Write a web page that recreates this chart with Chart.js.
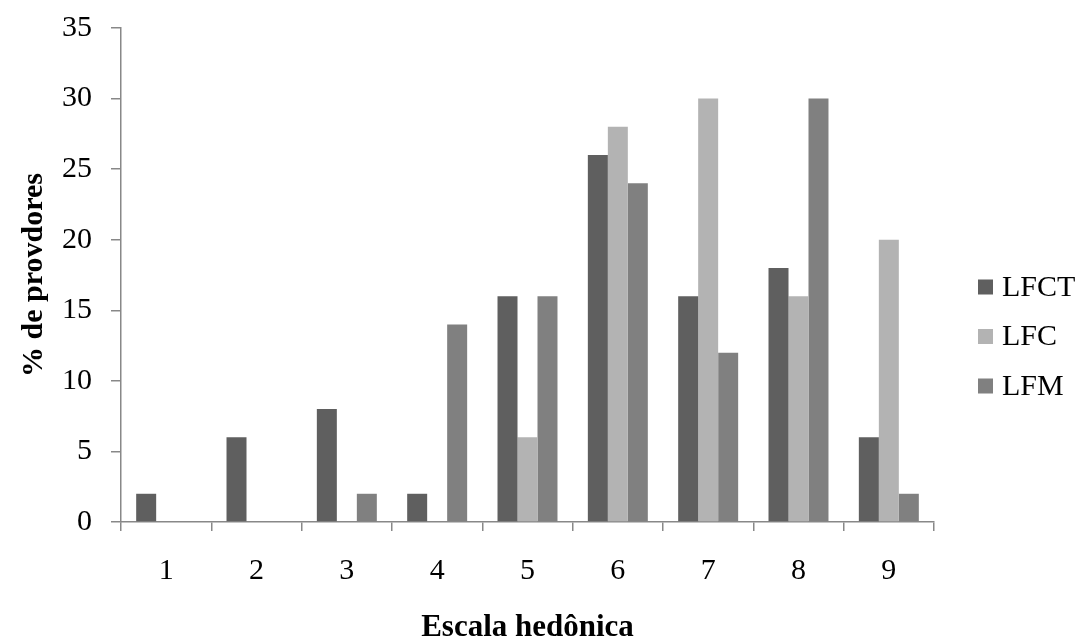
<!DOCTYPE html>
<html lang="pt">
<head>
  <meta charset="UTF-8">
  <title>Escala hedônica</title>
  <style>
    body {
        margin: 0;
        padding: 0;
        background: #fff;
    }
    .wrap {
        width: 1081px;
        height: 640px;
    }
  </style>
</head>
<body>
  <div class="wrap">
    <canvas id="hedonicChart" width="1081" height="640"></canvas>
  </div>

  <script src="https://cdn.jsdelivr.net/npm/chart.js"></script>
  <script>
    // escala hedônica 1..9, % de provadores por amostra
    const categories = ['1', '2', '3', '4', '5', '6', '7', '8', '9'];
    const lfct = [2, 6, 8, 2, 16, 26, 16, 18, 6];
    const lfc  = [0, 0, 0, 0, 6, 28, 30, 16, 20];
    const lfm  = [0, 0, 2, 14, 16, 24, 12, 30, 2];
    const yTicks = [0, 5, 10, 15, 20, 25, 30, 35];

    const serif = "'Liberation Serif', 'Times New Roman', serif";
    const axisGray = '#888888';

    // legend on the right, drawn by hand so it sits where we want it
    const sideLegend = {
      id: 'sideLegend',
      afterDraw(chart) {
        const ctx = chart.ctx;
        ctx.save();
        ctx.font = '30px ' + serif;
        ctx.textBaseline = 'middle';
        ctx.textAlign = 'left';
        chart.data.datasets.forEach((ds, i) => {
          const cy = 287 + i * 49.5;
          ctx.fillStyle = ds.backgroundColor;
          ctx.fillRect(978, cy - 7.5, 15, 15);
          ctx.fillStyle = '#000';
          ctx.fillText(ds.label, 1002, cy + 1);
        });
        ctx.restore();
      }
    };

    new Chart(document.getElementById('hedonicChart').getContext('2d'), {
      type: 'bar',
      data: {
        labels: categories,
        datasets: [
          { label: 'LFCT', data: lfct, backgroundColor: '#5f5f5f' },
          { label: 'LFC',  data: lfc,  backgroundColor: '#b3b3b3' },
          { label: 'LFM',  data: lfm,  backgroundColor: '#808080' }
        ]
      },
      options: {
        responsive: false,
        animation: false,
        layout: { padding: { top: 28, right: 147, left: 0, bottom: 0 } },
        datasets: {
          bar: { categoryPercentage: 0.664, barPercentage: 1.0, borderWidth: 0 }
        },
        plugins: {
          legend: { display: false },
          tooltip: { enabled: false }
        },
        scales: {
          x: {
            afterFit(scale) {
              scale.height = 118;
              scale.paddingLeft = 0;
              scale.paddingRight = 0;
            },
            grid: {
              offset: true,
              drawOnChartArea: false,
              drawTicks: true,
              tickLength: 9,
              color: axisGray,
              lineWidth: 1.5
            },
            border: { display: true, color: axisGray, width: 1.5 },
            ticks: {
              color: '#000',
              font: { family: serif, size: 30 },
              padding: 22,
              maxRotation: 0
            },
            title: {
              display: true,
              text: 'Escala hedônica',
              color: '#000',
              font: { family: serif, size: 31, weight: 'bold', lineHeight: 1 },
              padding: { top: 0, bottom: -3 }
            }
          },
          y: {
            min: 0,
            max: 35,
            afterFit(scale) {
              scale.width = 121;
              scale.paddingTop = 0;
              scale.paddingBottom = 0;
            },
            afterBuildTicks(scale) {
              scale.ticks = yTicks.map(v => ({ value: v }));
            },
            grid: {
              drawOnChartArea: false,
              drawTicks: true,
              tickLength: 10,
              color: axisGray,
              lineWidth: 1.5
            },
            border: { display: true, color: axisGray, width: 1.5 },
            ticks: {
              color: '#000',
              font: { family: serif, size: 30 },
              padding: 19
            },
            title: {
              display: true,
              text: '% de provdores',
              color: '#000',
              font: { family: serif, size: 30, weight: 'bold', lineHeight: 1.2 },
              padding: { top: 16, bottom: 0 }
            }
          }
        }
      },
      plugins: [sideLegend]
    });
  </script>
</body>
</html>
